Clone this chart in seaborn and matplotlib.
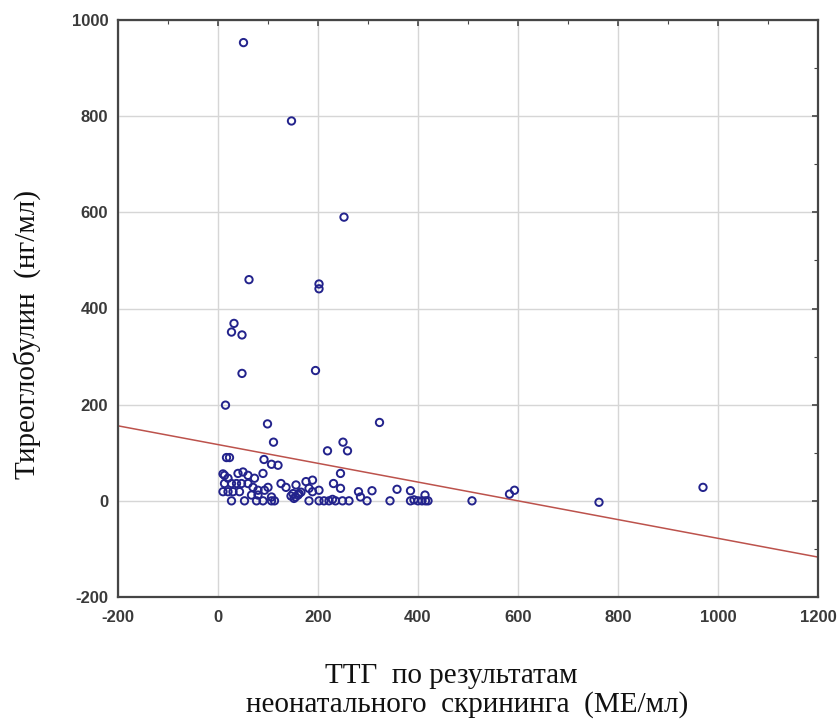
import numpy as np
import pandas as pd
import matplotlib
matplotlib.use("Agg")
import matplotlib.pyplot as plt
import seaborn as sns
from matplotlib.ticker import MultipleLocator

# --- data ---
tsh = [51, 147, 252, 62, 202, 202, 32, 27, 48, 48, 195, 15, 99, 323, 111, 250, 219, 259,
       17, 23, 92, 107, 120, 90, 10, 50, 245,
       13, 20, 40, 60, 73,
       13, 27, 37, 47, 60,
       70, 80, 93, 100,
       126, 136, 156,
       10, 20, 30, 43,
       67, 80, 107,
       27, 53, 77, 90, 107, 113,
       146, 150, 155, 160, 166, 152,
       176, 189, 182, 189, 202, 162,
       182, 202, 212, 222, 229, 235, 249, 262,
       231, 245, 281, 285, 298, 308, 344, 358,
       385, 414, 385, 392, 400, 408, 415, 420,
       508, 583, 593, 762, 970]
tg = [953, 790, 590, 460, 451, 441, 369, 351, 345, 265, 271, 199, 160, 163, 122, 122, 104, 104,
      90, 90, 86, 76, 74, 57, 56, 60, 57,
      53, 47, 57, 53, 47,
      36, 36, 36, 36, 36,
      28, 22, 22, 28,
      36, 28, 33,
      19, 19, 19, 19,
      12, 12, 8,
      0, 0, 0, 0, 0, 0,
      10, 15, 8, 12, 18, 5,
      40, 43, 26, 19, 22, 15,
      0, 0, 0, 0, 3, 0, 0, 0,
      36, 26, 19, 8, 0, 21, 0, 24,
      21, 12, 0, 2, 0, 0, 0, 0,
      0, 14, 22, -3, 28]
fit_intercept = 117.0
fit_slope = -0.195
x_ticks = [-200, 0, 200, 400, 600, 800, 1000, 1200]
y_ticks = [-200, 0, 200, 400, 600, 800, 1000]
x_label_lines = ["ТТГ  по результатам", "неонатального  скрининга  (МЕ/мл)"]
y_label = "Тиреоглобулин  (нг/мл)"

df = pd.DataFrame({"x": tsh, "y": tg})

sns.set_style("white")
plt.rcParams['font.family'] = ['Liberation Sans', 'DejaVu Sans']
plt.rcParams['axes.unicode_minus'] = False

W, H = 839, 724
fig = plt.figure(figsize=(W / 100, H / 100), dpi=100)
ax = fig.add_axes([118 / W, 1 - 597 / H, 700 / W, 577 / H])

ax.grid(True, color="#d6d6d6", linewidth=1.0, zorder=0)
ax.set_axisbelow(True)

ax.axline((0, fit_intercept), slope=fit_slope, color="#bc524c", linewidth=1.1, zorder=2)

sns.scatterplot(data=df, x="x", y="y", ax=ax, marker="o", s=28,
                facecolor="none", edgecolor="#23238c", linewidth=1.4, zorder=3)

ax.set_xlim(-200, 1200)
ax.set_ylim(-200, 1000)
ax.set_xticks(x_ticks)
ax.set_yticks(y_ticks)
ax.xaxis.set_minor_locator(MultipleLocator(100))
ax.yaxis.set_minor_locator(MultipleLocator(100))
ax.tick_params(which="both", direction="in", top=True, right=True,
               colors="#444444", labelcolor="#3a3a3a")
ax.tick_params(which="major", length=4, width=1.2, labelsize=12)
ax.tick_params(axis="y", which="major", pad=7)
ax.tick_params(axis="x", which="major", pad=9)
ax.tick_params(which="minor", length=3, width=0.8)
for lab in ax.get_xticklabels() + ax.get_yticklabels():
    lab.set_fontweight("bold")
for sp in ax.spines.values():
    sp.set_color("#454545")
    sp.set_linewidth(1.6)
ax.set_xlabel("")
ax.set_ylabel("")

serif = ["Liberation Serif", "DejaVu Serif"]
fig.text(451 / W, 1 - 683 / H, x_label_lines[0], family=serif, fontsize=21,
         ha="center", va="baseline", color="#111111")
fig.text(467 / W, 1 - 712 / H, x_label_lines[1], family=serif, fontsize=21,
         ha="center", va="baseline", color="#111111")
fig.text(27 / W, 1 - 334.5 / H, y_label, family=serif, fontsize=21,
         rotation=90, ha="center", va="center", color="#111111")

fig.savefig("out.png", dpi=100)
